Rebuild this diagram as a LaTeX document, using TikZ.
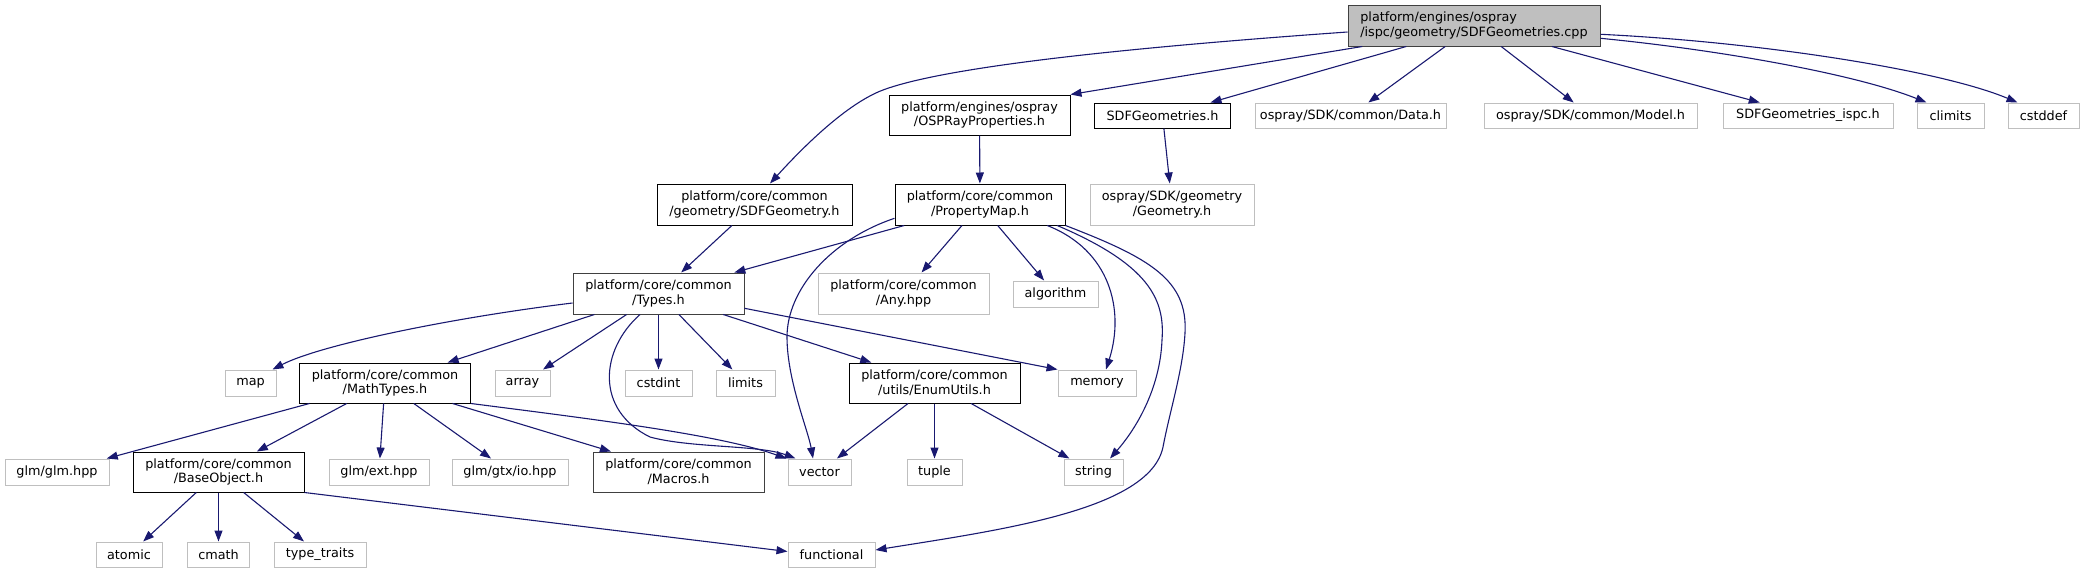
\documentclass[tikz,border=0pt]{standalone}
\usepackage{fontspec}
\newfontfamily\dvsfont{DejaVu Sans}
\usetikzlibrary{arrows.meta}
\definecolor{edgeblue}{HTML}{191970}
\definecolor{lgray}{HTML}{BFBFBF}
\definecolor{dgray}{HTML}{404040}
\begin{document}
\begin{tikzpicture}[x=1pt,y=-1pt,
  bx/.style={draw=black, line width=1pt, inner sep=0pt, align=center,
    font=\dvsfont\fontsize{12.8}{14.6}\selectfont},
  gbx/.style={bx, draw=lgray},
  edge/.style={draw=edgeblue, line width=1.1pt, -{Triangle[length=11pt,width=8pt]}}]
\useasboundingbox (0,0) rectangle (2085,573);
% row 0
\node[bx, fill=lgray, draw=dgray, align=left, minimum width=252pt, minimum height=41pt] (root) at (1474,25.5) {platform/engines/ospray\\/ispc/geometry/SDFGeometries.cpp};
% row 1
\node[bx, minimum width=181pt, minimum height=40pt] (osp) at (979.5,115) {platform/engines/ospray\\/OSPRayProperties.h};
\node[bx, minimum width=136pt, minimum height=25pt] (sdfh) at (1162.5,115.5) {SDFGeometries.h};
\node[gbx, minimum width=191pt, minimum height=25pt] (data) at (1350.5,115.5) {ospray/SDK/common/Data.h};
\node[gbx, minimum width=213pt, minimum height=25pt] (model) at (1590.5,115.5) {ospray/SDK/common/Model.h};
\node[gbx, minimum width=170pt, minimum height=25pt] (ispc) at (1808,115.5) {SDFGeometries\_ispc.h};
\node[gbx, minimum width=67pt, minimum height=25pt] (climits) at (1950.5,115.5) {climits};
\node[gbx, minimum width=71pt, minimum height=25pt] (cstddef) at (2043.5,115.5) {cstddef};
% row 2
\node[bx, minimum width=195pt, minimum height=41pt] (sdfgeo) at (754.5,204.5) {platform/core/common\\/geometry/SDFGeometry.h};
\node[bx, minimum width=170pt, minimum height=41pt] (pmap) at (980,204.5) {platform/core/common\\/PropertyMap.h};
\node[gbx, minimum width=164pt, minimum height=41pt] (geom) at (1172,204.5) {ospray/SDK/geometry\\/Geometry.h};
% row 3
\node[bx, draw=dgray, minimum width=171pt, minimum height=41pt] (types) at (658.5,293.5) {platform/core/common\\/Types.h};
\node[gbx, minimum width=171pt, minimum height=41pt] (any) at (903.5,293.5) {platform/core/common\\/Any.hpp};
\node[gbx, minimum width=85pt, minimum height=26pt] (algo) at (1055.5,294) {algorithm};
% row 4
\node[gbx, minimum width=51pt, minimum height=26pt] (map) at (250.5,383) {map};
\node[bx, minimum width=171pt, minimum height=40pt] (math) at (385,383) {platform/core/common\\/MathTypes.h};
\node[gbx, minimum width=55pt, minimum height=26pt] (array) at (522.5,383) {array};
\node[gbx, minimum width=67pt, minimum height=26pt] (cstdint) at (658.5,383) {cstdint};
\node[gbx, minimum width=59pt, minimum height=26pt] (limits) at (745.5,383) {limits};
\node[bx, minimum width=171pt, minimum height=40pt] (enum) at (934.5,383) {platform/core/common\\/utils/EnumUtils.h};
\node[gbx, minimum width=78pt, minimum height=26pt] (memory) at (1097,383) {memory};
% row 5
\node[gbx, minimum width=104pt, minimum height=26pt] (glm) at (57,472) {glm/glm.hpp};
\node[bx, minimum width=171pt, minimum height=40pt] (base) at (218.5,472) {platform/core/common\\/BaseObject.h};
\node[gbx, minimum width=100pt, minimum height=26pt] (ext) at (379,472) {glm/ext.hpp};
\node[gbx, minimum width=116pt, minimum height=26pt] (gtx) at (510,472) {glm/gtx/io.hpp};
\node[bx, draw=dgray, minimum width=171pt, minimum height=40pt] (macros) at (678.5,472) {platform/core/common\\/Macros.h};
\node[gbx, minimum width=63pt, minimum height=26pt] (vector) at (819.5,472) {vector};
\node[gbx, minimum width=55pt, minimum height=26pt] (tuple) at (934.5,472) {tuple};
\node[gbx, minimum width=59pt, minimum height=26pt] (string) at (1093.5,472) {string};
% row 6
\node[gbx, minimum width=66pt, minimum height=25pt] (atomic) at (129,554.5) {atomic};
\node[gbx, minimum width=62pt, minimum height=25pt] (cmath) at (218.5,554.5) {cmath};
\node[gbx, minimum width=92pt, minimum height=25pt] (ttraits) at (320,554.5) {type\_traits};
\node[gbx, minimum width=87pt, minimum height=25pt] (functional) at (831.5,554.5) {functional};
% edges from root
\draw[edge] ([yshift=-6.5pt]root.west) .. controls (1150,46) and (950,65) .. (883,90) .. controls (843,105) and (795,156) .. ([xshift=15.5pt]sdfgeo.north);
\draw[edge] ([xshift=14.7pt]root.south west) -- (osp.north east);
\draw[edge] ([xshift=58.7pt]root.south west) -- ([xshift=48pt]sdfh.north);
\draw[edge] (root) -- (data);
\draw[edge] (root) -- (model);
\draw[edge] (root) -- (ispc);
\draw[edge] ([yshift=-12.8pt]root.east) .. controls (1720,50) and (1855,74) .. ([xshift=10pt]climits.north west);
\draw[edge] ([yshift=-8.8pt]root.east) .. controls (1760,42) and (1940,70) .. ([xshift=10pt]cstddef.north west);
% row 1 -> 2
\draw[edge] (osp) -- (pmap);
\draw[edge] (sdfh) -- (geom);
% row 2 -> lower
\draw[edge] (sdfgeo) -- (types);
\draw[edge] (pmap) -- (types);
\draw[edge] (pmap) -- (any);
\draw[edge] (pmap) -- (algo);
\draw[edge] ([yshift=-13.8pt]pmap.west) .. controls (830,240) and (787,290) .. (787,337) .. controls (787,380) and (808,430) .. ([xshift=-6.5pt]vector.north);
\draw[edge] ([xshift=-18.3pt]pmap.south east) .. controls (1110,250) and (1125,310) .. ([xshift=9pt]memory.north);
\draw[edge] ([xshift=-8.3pt]pmap.south east) .. controls (1150,265) and (1165,300) .. (1162,340) .. controls (1160,390) and (1135,430) .. ([xshift=16.5pt]string.north);
\draw[edge] (pmap.south east) .. controls (1150,258) and (1188,280) .. (1185,333) .. controls (1183,370) and (1170,410) .. (1163,447) .. controls (1150,510) and (1000,530) .. ([yshift=4.5pt]functional.east);
% Types
\draw[edge] ([yshift=-9.5pt]types.west) .. controls (450,318) and (320,345) .. ([xshift=-4pt]map.north east);
\draw[edge] (types) -- (math);
\draw[edge] (types) -- (array);
\draw[edge] ([xshift=-18.5pt]types.south) .. controls (600,350) and (595,410) .. (650,437) .. controls (690,448) and (760,445) .. ([xshift=8pt]vector.north west);
\draw[edge] (types) -- (cstdint);
\draw[edge] (types) -- (limits);
\draw[edge] (types) -- (enum);
\draw[edge] ([yshift=-14.8pt]types.east) -- (memory.north west);
% MathTypes
\draw[edge] (math) -- (glm);
\draw[edge] (math) -- (base);
\draw[edge] (math) -- (ext);
\draw[edge] (math) -- (gtx);
\draw[edge] (math) -- (macros);
\draw[edge] (math.south east) .. controls (600,420) and (720,435) .. ([xshift=-1pt]vector.north west);
% BaseObject
\draw[edge] (base) -- (atomic);
\draw[edge] (base) -- (cmath);
\draw[edge] (base) -- (ttraits);
\draw[edge] (base.south east) -- ([yshift=3pt]functional.west);
% EnumUtils
\draw[edge] (enum) -- (vector);
\draw[edge] (enum) -- (tuple);
\draw[edge] (enum) -- (string);
\end{tikzpicture}
\end{document}
